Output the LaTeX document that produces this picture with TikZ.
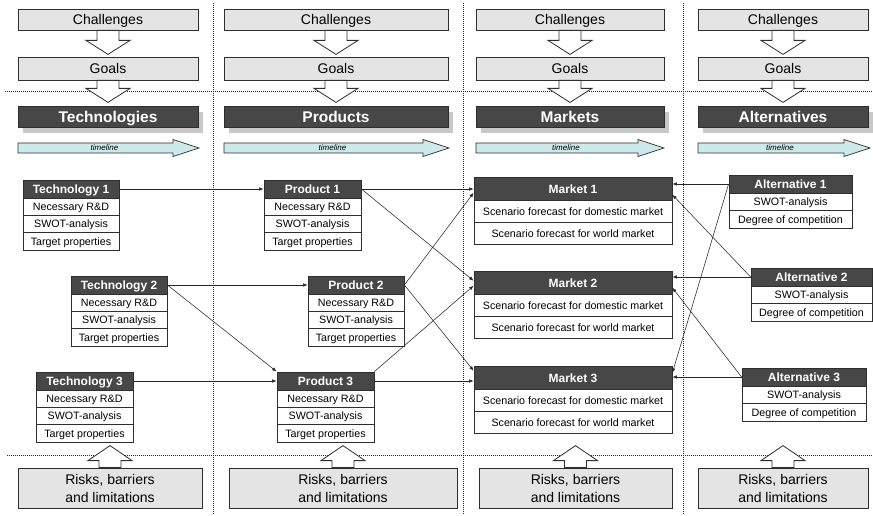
\documentclass[tikz,border=0pt]{standalone}
\usepackage{fontspec}
\setmainfont{Liberation Sans}
\usetikzlibrary{calc,shadows,arrows.meta}

\definecolor{hdrfill}{HTML}{474747}
\definecolor{edge}{HTML}{2E2E2E}
\definecolor{boxgray}{HTML}{E4E4E4}
\definecolor{shadowgray}{HTML}{C8C8C8}
\definecolor{tlcyan}{HTML}{CDE9EB}

\tikzset{
  grid line/.style={densely dotted, line width=1pt, black!85},
  graybox/.style={draw=edge, fill=boxgray, line width=0.8pt, inner sep=0pt,
    align=center, font=\fontsize{14}{18}\selectfont},
  oneline/.style={text height=13pt, text depth=3pt},
  colhead/.style={draw=edge, fill=hdrfill, line width=0.8pt, text=white, inner sep=0pt,
    text height=14.3pt, text depth=3.2pt,
    font=\fontsize{15.5}{18}\selectfont\bfseries,
    drop shadow={shadow xshift=5pt, shadow yshift=-6pt, fill=shadowgray, opacity=1}},
  thead/.style={draw=edge, fill=hdrfill, line width=0.8pt, text=white, inner sep=0pt,
    text height=11.1pt, text depth=2.5pt,
    font=\fontsize{12}{14}\selectfont\bfseries},
  trow/.style={draw=edge, fill=white, line width=0.8pt, inner sep=0pt,
    text height=10pt, text depth=2.3pt,
    font=\fontsize{10.7}{12}\selectfont},
  blockarr/.style={draw=edge, fill=white, line width=0.8pt, line join=miter},
  tlarrow/.style={draw=edge, fill=tlcyan, line width=0.7pt, line join=miter},
  tltext/.style={inner sep=0pt, font=\fontsize{8}{9}\selectfont\itshape},
  conn/.style={draw=black!85, line width=0.55pt, -{Latex[length=4.5pt,width=3.5pt]}},
}

% table: name, centre x, top y, width, header height, row height, title, rows
\newcommand\infotable[8]{%
  \node[thead, minimum width=#4pt, minimum height=#5pt] (#1) at (#2,{#3+#5/2}) {#7};
  \foreach \txt [count=\k] in {#8}
    \node[trow, minimum width=#4pt, minimum height=#6pt] (#1-\k) at (#2,{#3+#5+(\k-0.5)*#6}) {\txt};
}

% outlined block arrow: anchor, direction (1 down, -1 up), shaft length, head length
\newcommand\blockarrow[4]{%
  \draw[blockarr] ($(#1)+(-11,0)$) -- ($(#1)+(-11,{#2*#3})$) -- ($(#1)+(-22,{#2*#3})$)
    -- ($(#1)+(0,{#2*(#3+#4)})$) -- ($(#1)+(22,{#2*#3})$) -- ($(#1)+(11,{#2*#3})$)
    -- ($(#1)+(11,0)$) -- cycle;
}

% timeline arrow: name, left x, tip x, axis y
\newcommand\timeline[4]{%
  \draw[tlarrow] (#2,#4-5) -- (#3-26,#4-5) -- (#3-26,#4-8.5) -- (#3,#4)
    -- (#3-26,#4+8.5) -- (#3-26,#4+5) -- (#2,#4+5) -- cycle;
  \node[tltext] (#1) at ({(#2+#3)/2-4},#4) {timeline};
}

\begin{document}
\begin{tikzpicture}[x=1pt,y=-1pt]
\useasboundingbox (0,0) rectangle (873,516);

% section separators
\draw[grid line] (5,92) -- (873,92);
\draw[grid line] (7,455) -- (873,455);
\foreach \gx in {213,463,683}
  \draw[grid line] (\gx,3) -- (\gx,514);

% column tops: challenges, goals, column heading, timeline
\foreach \c/\cx/\w/\tip/\title in {1/108/180/199/Technologies, 2/336/224/449/Products,
                                   3/570/188/664/Markets, 4/783/170/870/Alternatives}{
  \node[graybox, oneline, minimum width=\w pt, minimum height=21pt] (ch\c) at (\cx,19.5) {Challenges};
  \node[graybox, oneline, minimum width=\w pt, minimum height=23pt] (go\c) at (\cx,68.5) {Goals};
  \node[colhead, minimum width=\w pt, minimum height=21pt] (hd\c) at (\cx,116.5) {\title};
  \blockarrow{ch\c.south}{1}{10}{14}
  \blockarrow{go\c.south}{1}{8}{14}
  \timeline{tl\c}{\cx-\w/2}{\tip}{148}
}

% risks at the bottom of each column
\foreach \c/\cx/\w in {1/110/184, 2/343/228, 3/575.5/193, 4/783/170}{
  \node[graybox, minimum width=\w pt, minimum height=40pt] (rk\c) at (\cx,488)
    {Risks, barriers\\and limitations};
  \blockarrow{rk\c.north}{-1}{7}{15}
}

% technologies
\infotable{t1}{71}{180}{96}{18}{17.33}{Technology 1}{Necessary R\&D, SWOT-analysis, Target properties}
\infotable{t2}{119}{276}{96}{18}{17.33}{Technology 2}{Necessary R\&D, SWOT-analysis, Target properties}
\infotable{t3}{84.5}{372}{97}{18}{17.33}{Technology 3}{Necessary R\&D, SWOT-analysis, Target properties}
% products
\infotable{p1}{312.5}{180}{97}{18}{17.33}{Product 1}{Necessary R\&D, SWOT-analysis, Target properties}
\infotable{p2}{356}{276}{96}{18}{17.33}{Product 2}{Necessary R\&D, SWOT-analysis, Target properties}
\infotable{p3}{325.5}{372}{97}{18}{17.33}{Product 3}{Necessary R\&D, SWOT-analysis, Target properties}
% markets
\infotable{m1}{573}{177}{198}{23.5}{22}{Market 1}{Scenario forecast for domestic market, Scenario forecast for world market}
\infotable{m2}{573}{271}{198}{23.5}{22}{Market 2}{Scenario forecast for domestic market, Scenario forecast for world market}
\infotable{m3}{573}{366}{198}{23.5}{22}{Market 3}{Scenario forecast for domestic market, Scenario forecast for world market}
% alternatives
\infotable{a1}{790.5}{175}{123}{18}{17.5}{Alternative 1}{SWOT-analysis, Degree of competition}
\infotable{a2}{811.5}{268}{121}{18}{17.5}{Alternative 2}{SWOT-analysis, Degree of competition}
\infotable{a3}{804}{368}{124}{18}{17.5}{Alternative 3}{SWOT-analysis, Degree of competition}

% technologies to products
\draw[conn] (t1.east) -- (t1.east -| p1.west);
\draw[conn] (t2.east) -- (t2.east -| p2.west);
\draw[conn] (t2.east) -- (p3.north west);
\draw[conn] (t3.east) -- (t3.east -| p3.west);

% products to markets
\draw[conn] (p1.east) -- (p1.east -| m1.west);
\draw[conn] (p1.east) -- ([yshift=2pt]m2.west);
\draw[conn] (p2.east) -- ([yshift=-4pt]m1.west);
\draw[conn] (p2.east) -- ([yshift=7pt]m3.west);
\draw[conn] (p3.east) -- (p3.east -| m3.west);
\draw[conn] (p3.north east) -- ([yshift=-3pt]m2.west);

% alternatives to markets
\draw[conn] (a1.west) -- (a1.west -| m1.east);
\draw[conn] (a1.west) -- ([yshift=5pt]m3.east);
\draw[conn] (a2.west) -- (a2.west -| m2.east);
\draw[conn] (a2.west) -- ([yshift=-6pt]m1.east);
\draw[conn] (a3.west) -- (a3.west -| m3.east);
\draw[conn] (a3.west) -- ([yshift=-5pt]m2.east);
\end{tikzpicture}
\end{document}
